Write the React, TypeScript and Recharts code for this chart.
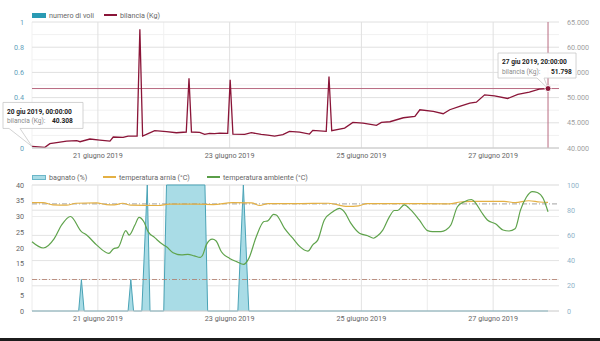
import React from 'react';
import {
  ComposedChart,
  Line,
  Bar,
  Area,
  XAxis,
  YAxis,
  CartesianGrid,
  ReferenceLine,
  ReferenceDot,
} from 'recharts';

const FONT = 'Roboto, "Noto Sans", sans-serif';

// x = ore trascorse dal 20 giu 2019 00:00
const giorniTicks = [24, 72, 120, 168];
const giorniLabel = ['21 giugno 2019', '23 giugno 2019', '25 giugno 2019', '27 giugno 2019'];
const giorniMinori = [0, 48, 96, 144];

const voliOre = [0, 24, 48, 72, 96, 120, 144, 168, 188];
const voliNumero = [0, 0, 0, 0, 0, 0, 0, 0, 0];

const bilanciaOre = [
  0, 4.7, 6.5, 9.6, 12.6, 16.3, 17.5, 21.1, 24.7, 28.4, 29.6, 33.2, 35, 38.3, 39.3, 40.3,
  42.3, 44.7, 49, 52.6, 56.2, 57.2, 58.1, 61.1, 62.9, 64.7, 66.5, 68.4, 71.3, 72.2, 73.2,
  77.5, 79.9, 83.5, 85.9, 88.4, 91.4, 93.8, 97.5, 101.1, 102.3, 107.2, 108.2, 109.2, 113.9,
  116.9, 120.6, 125.5, 127.3, 130.4, 135.3, 139.5, 141.3, 146.2, 149.8, 152.2, 155.8, 159.5,
  161.9, 164.9, 168.5, 173.3, 177, 181.2, 184.8, 188,
];
const bilanciaKg = [
  40308, 40130, 40860, 41120, 41380, 41450, 41250, 41780, 41580, 41380, 42180, 42110, 42370,
  42370, 63550, 42370, 42840, 43430, 43230, 43030, 43170, 53850, 43170, 43100, 42700, 42900,
  42840, 42970, 42900, 53520, 42770, 42700, 43030, 42700, 42570, 42370, 42640, 43300, 43170,
  42770, 43500, 43300, 54180, 43430, 43960, 45080, 44950, 44490, 45080, 45210, 46000, 46270,
  47590, 47260, 46800, 47590, 48250, 48900, 49100, 50550, 50360, 49830, 50620, 51080, 51680,
  51798,
];

const bagnatoOre = [0, 17, 18, 19, 35, 36, 37, 40, 42, 43, 48, 49, 63, 64, 75, 77, 79, 188];
const bagnatoPct = [0, 0, 25, 0, 0, 25, 0, 0, 100, 0, 0, 100, 100, 0, 0, 100, 0, 0];

const arniaOre = [
  0, 4, 7.6, 12.6, 16, 23.5, 27, 30, 33, 36, 46, 50, 60, 66, 73, 80, 83, 86, 97, 108, 115,
  119, 122, 134, 152, 156, 160, 172, 176, 181, 185, 188,
];
const arniaTemp = [
  34.4, 34.4, 33.7, 33.6, 34.2, 34.3, 33.8, 33.7, 34.2, 33.6, 33.5, 33.9, 33.9, 33.8, 34.4,
  34.3, 33.5, 34.1, 34.1, 34.2, 33.2, 33.4, 34.1, 34.1, 34.0, 34.6, 34.8, 34.8, 34.4, 35.0,
  34.6, 34.5,
];

const ambienteOre = [
  0, 4.1, 8.1, 10.8, 14, 18, 19.9, 23.5, 28, 29.6, 31.4, 34.2, 35.4, 37.5, 39, 40.7, 42.3,
  44.7, 47.8, 49, 51.4, 54.4, 56.8, 59.1, 61.3, 62.2, 63.5, 65.7, 67, 69, 72, 74.7, 77.1, 79,
  81.7, 84.5, 85.9, 88, 89, 92, 95, 97.5, 100.5, 102.3, 104.1, 106.5, 109.6, 112, 113.8,
  116.2, 119.3, 122.3, 124.4, 125.9, 127.8, 130.2, 132, 133.2, 135.6, 138, 141.1, 144.1,
  145.9, 149, 150.8, 152.6, 155, 157.5, 160.1, 161.7, 163.9, 165.9, 169, 171.6, 173.8, 176,
  178, 180.1, 182.3, 184.1, 186.2, 188,
];
const ambienteTemp = [
  22, 20, 23, 27.3, 30, 25.2, 24.1, 21, 18.3, 19.7, 20.2, 25.5, 24.1, 27.3, 29.7, 28.4, 25.2,
  23.3, 21, 20.4, 18.5, 17.8, 18, 17.5, 17, 17.8, 21, 22.8, 22.3, 18.8, 16.7, 15.6, 14.8,
  16.7, 23.6, 28.4, 28.6, 30.7, 30.5, 26.2, 23.1, 20.5, 19, 21, 22.5, 28.9, 31.5, 32.6, 31.5,
  27.8, 24.7, 23.9, 23.1, 23.9, 25.7, 29.9, 31.9, 31.9, 33.7, 32.1, 28.9, 25.5, 25.2, 25.2,
  25.7, 27.3, 33.1, 34.7, 35.4, 34.2, 31.2, 28.9, 27.6, 25.7, 25.4, 26.1, 32.1, 36.1, 37.9,
  37.6, 35.8, 31.5,
];

const voliData = voliOre.map((h, i) => ({ h, voli: voliNumero[i] }));
const bilanciaData = bilanciaOre.map((h, i) => ({ h, kg: bilanciaKg[i] }));
const bagnatoData = bagnatoOre.map((h, i) => ({ h, bagnato: bagnatoPct[i] }));
const arniaData = arniaOre.map((h, i) => ({ h, arnia: arniaTemp[i] }));
const ambienteData = ambienteOre.map((h, i) => ({ h, ambiente: ambienteTemp[i] }));

const fmtKg = (v: number) => String(Math.round(v)).replace(/\B(?=(\d{3})+(?!\d))/g, '.');
const fmtGiorno = (v: number) => giorniLabel[giorniTicks.indexOf(v)] ?? '';

const tickX = { fontSize: 7.2, fill: '#666', fontFamily: FONT };
const topMargin = { top: 22, right: 0, bottom: 5, left: 0 };

function Callout(props: any) {
  const { cx, cy, dx, dy, w, h, wedge, titolo, valore, valoreX, dot } = props;
  const bx = cx + dx;
  const by = cy + dy;
  const path = `M${bx},${by} H${bx + w} V${by + h} H${bx + wedge[1]} L${cx},${cy} L${bx + wedge[0]},${by + h} H${bx} Z`;
  return (
    <g style={{ fontFamily: FONT }}>
      <path d={path} fill="#fff" fillOpacity={0.96} stroke="#c8c8c8" strokeWidth={0.8} />
      <text x={bx + 4} y={by + 11.2} fontSize={6.6} fontWeight={700} fill="#222">
        {titolo}
      </text>
      <text x={bx + 4} y={by + 21} fontSize={6.6} fill="#8a8a8a">
        bilancia (Kg):
      </text>
      <text x={bx + valoreX} y={by + 21} fontSize={6.6} fontWeight={700} fill="#222">
        {valore}
      </text>
      {dot && <circle cx={cx} cy={cy} r={3} fill="#8a1538" stroke="#fff" strokeWidth={1} />}
    </g>
  );
}

function LegendItem({ kind, color, stroke, label, left }: any) {
  return (
    <div style={{ position: 'absolute', left, top: 0, display: 'flex', alignItems: 'center', height: 12 }}>
      {kind === 'rect' ? (
        <span style={{ width: 14, height: 5, background: color, border: stroke ? `1px solid ${stroke}` : 'none', boxSizing: 'border-box' }} />
      ) : (
        <span style={{ width: 13, height: 1.5, background: color }} />
      )}
      <span style={{ marginLeft: 3, fontSize: 7.2, color: '#666', whiteSpace: 'nowrap' }}>{label}</span>
    </div>
  );
}

// assi uguali a quelli del grafico superiore, per allineare i riquadri sovrapposti
function topAxes(visible: boolean) {
  return [
    <XAxis
      key="x"
      dataKey="h"
      type="number"
      domain={[0, 192]}
      ticks={giorniTicks}
      tickFormatter={fmtGiorno}
      height={17}
      tickSize={3}
      tickMargin={2}
      tickLine={false}
      axisLine={visible ? { stroke: '#c8c8c8' } : false}
      tick={visible ? tickX : false}
      interval={0}
    />,
    <YAxis
      key="yl"
      yAxisId="left"
      domain={[0, 1]}
      ticks={[0, 0.2, 0.4, 0.6, 0.8, 1]}
      width={32}
      axisLine={false}
      tickLine={false}
      tick={visible ? { fontSize: 7.2, fill: '#5f9fbb', fontFamily: FONT } : false}
    />,
    <YAxis
      key="yr"
      yAxisId="right"
      orientation="right"
      domain={[40000, 65000]}
      ticks={[40000, 45000, 50000, 55000, 60000, 65000]}
      tickFormatter={fmtKg}
      width={41}
      axisLine={false}
      tickLine={false}
      tick={visible ? { fontSize: 7.2, fill: '#a0a0a0', fontFamily: FONT } : false}
    />,
  ];
}

export default function App() {
  return (
    <div style={{ position: 'relative', width: 600, height: 341, background: '#fff', fontFamily: FONT, overflow: 'hidden' }}>
      <style>{'body{margin:0}'}</style>

      <div style={{ position: 'absolute', left: 0, top: 9, width: 600, height: 12 }}>
        <LegendItem kind="rect" color="#2a9ab3" label="numero di voli" left={32} />
        <LegendItem kind="line" color="#8a1538" label="bilancia (Kg)" left={104} />
      </div>

      <div style={{ position: 'absolute', left: 0, top: 0 }}>
        <ComposedChart width={600} height={170} data={voliData} margin={topMargin}>
          <CartesianGrid yAxisId="left" horizontalValues={[0.1, 0.3, 0.5, 0.7, 0.9]} verticalValues={giorniMinori} stroke="#f1f1f1" />
          <CartesianGrid yAxisId="left" horizontalValues={[0, 0.2, 0.4, 0.6, 0.8, 1]} verticalValues={giorniTicks} stroke="#e0e0e0" />
          {topAxes(true)}
          <Bar yAxisId="left" dataKey="voli" fill="#2a9ab3" isAnimationActive={false} />
          <ReferenceLine yAxisId="right" y={51798} stroke="#b86a80" strokeWidth={1} />
          <ReferenceLine yAxisId="right" x={188} stroke="#b86a80" strokeWidth={1} />
          <Line
            yAxisId="right"
            data={bilanciaData}
            dataKey="kg"
            type="linear"
            stroke="#8a1538"
            strokeWidth={1.3}
            dot={false}
            activeDot={false}
            isAnimationActive={false}
          />
        </ComposedChart>
      </div>

      {/* riquadri del tooltip sopra le etichette degli assi */}
      <div style={{ position: 'absolute', left: 0, top: 0, pointerEvents: 'none' }}>
        <ComposedChart width={600} height={170} data={voliData} margin={topMargin}>
          {topAxes(false)}
          <Bar yAxisId="left" dataKey="voli" fill="none" isAnimationActive={false} />
          <Line
            yAxisId="right"
            data={bilanciaData}
            dataKey="kg"
            stroke="none"
            dot={false}
            activeDot={false}
            isAnimationActive={false}
          />
          <ReferenceDot
            yAxisId="right"
            x={0}
            y={40308}
            r={0}
            ifOverflow="visible"
            shape={(p: any) => (
              <Callout {...p} dx={-29} dy={-44} w={80} h={26} wedge={[6, 17]} titolo="20 giu 2019, 00:00:00" valore="40.308" valoreX={49} />
            )}
          />
          <ReferenceDot
            yAxisId="right"
            x={188}
            y={51798}
            r={3}
            ifOverflow="visible"
            shape={(p: any) => (
              <Callout {...p} dx={-50} dy={-35.5} w={78} h={25} wedge={[39, 46]} titolo="27 giu 2019, 20:00:00" valore="51.798" valoreX={53} dot />
            )}
          />
        </ComposedChart>
      </div>

      <div style={{ position: 'absolute', left: 0, top: 171, width: 600, height: 12 }}>
        <LegendItem kind="rect" color="#a9dce6" stroke="#6bb6c8" label="bagnato (%)" left={32} />
        <LegendItem kind="line" color="#e4b043" label="temperatura arnia (°C)" left={103} />
        <LegendItem kind="line" color="#5a9e48" label="temperatura ambiente (°C)" left={207} />
      </div>

      <div style={{ position: 'absolute', left: 0, top: 165 }}>
        <ComposedChart width={600} height={168} data={bagnatoData} margin={{ top: 20, right: 0, bottom: 5, left: 0 }}>
          <CartesianGrid yAxisId="left" horizontalValues={[5, 10, 15, 20, 25, 30, 35, 40]} verticalValues={giorniMinori} stroke="#ececec" />
          <CartesianGrid yAxisId="right" horizontalValues={[20, 40, 60, 80, 100]} verticalValues={giorniTicks} stroke="#e3e3e3" />
          <XAxis
            dataKey="h"
            type="number"
            domain={[0, 192]}
            ticks={giorniTicks}
            tickFormatter={fmtGiorno}
            height={17}
            tickSize={3}
            tickMargin={2}
            tickLine={false}
            axisLine={{ stroke: '#c8c8c8' }}
            tick={tickX}
            interval={0}
          />
          <YAxis
            yAxisId="left"
            domain={[0, 40]}
            ticks={[0, 5, 10, 15, 20, 25, 30, 35, 40]}
            width={32}
            axisLine={false}
            tickLine={false}
            tick={{ fontSize: 7.2, fill: '#666', fontFamily: FONT }}
          />
          <YAxis
            yAxisId="right"
            orientation="right"
            domain={[0, 100]}
            ticks={[0, 20, 40, 60, 80, 100]}
            width={41}
            axisLine={false}
            tickLine={false}
            tick={{ fontSize: 7.2, fill: '#8fb3c9', fontFamily: FONT }}
          />
          <Area
            yAxisId="right"
            dataKey="bagnato"
            type="linear"
            fill="#a9dce6"
            fillOpacity={1}
            stroke="#4aa3b6"
            strokeWidth={1}
            dot={false}
            activeDot={false}
            isAnimationActive={false}
          />
          <ReferenceLine yAxisId="left" y={10} stroke="#b07a68" strokeDasharray="5 2 1 2" strokeWidth={0.8} />
          <ReferenceLine yAxisId="left" y={34} stroke="#8a8a8a" strokeDasharray="5 2 1 2" strokeWidth={0.8} />
          <Line
            yAxisId="left"
            data={arniaData}
            dataKey="arnia"
            type="monotone"
            stroke="#e4b043"
            strokeWidth={1.2}
            dot={false}
            activeDot={false}
            isAnimationActive={false}
          />
          <Line
            yAxisId="left"
            data={ambienteData}
            dataKey="ambiente"
            type="monotone"
            stroke="#5fa34c"
            strokeWidth={1.2}
            dot={false}
            activeDot={false}
            isAnimationActive={false}
          />
        </ComposedChart>
      </div>

      <div style={{ position: 'absolute', left: 0, bottom: 0, width: 600, height: 3, background: '#1c1c1c' }} />
    </div>
  );
}
